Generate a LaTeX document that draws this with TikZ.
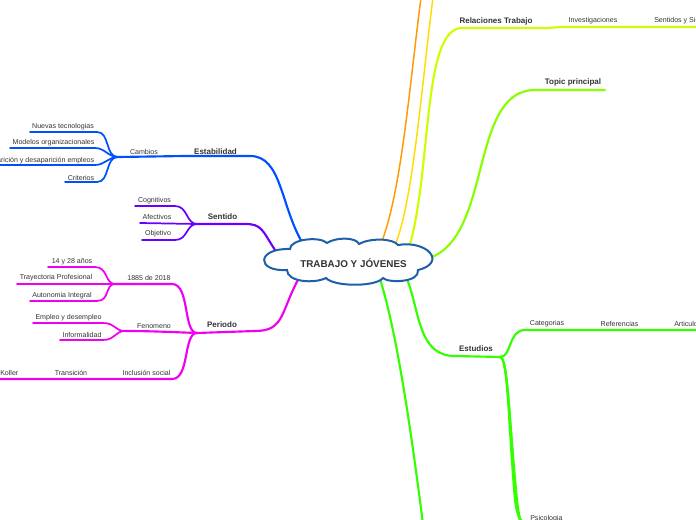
\documentclass[tikz,border=0pt]{standalone}
\usepackage{fontspec}
\setmainfont{Liberation Sans}
\definecolor{txt}{HTML}{333333}
\definecolor{cblue}{HTML}{0050FF}
\definecolor{cpurple}{HTML}{6A00FF}
\definecolor{cmag}{HTML}{F000F0}
\definecolor{corange}{HTML}{FF9900}
\definecolor{cyellow}{HTML}{FFDD00}
\definecolor{cyg}{HTML}{CCFF00}
\definecolor{ctopic}{HTML}{88FF00}
\definecolor{cgreen}{HTML}{33FF00}
\definecolor{ccloud}{HTML}{1F5FA8}
\begin{document}
\begin{tikzpicture}[x=0.75pt,y=-0.75pt,
  lbl/.style={font=\fontsize{5.3}{6}\selectfont, text=txt, inner sep=0pt},
  blbl/.style={font=\bfseries\fontsize{6}{7}\selectfont, text=txt, inner sep=0pt},
  br/.style={line width=1.6pt, line cap=round},
  sub/.style={line width=1.3pt, line cap=round},
  thin/.style={line width=1.1pt, line cap=round}]
\useasboundingbox (0,0) rectangle (696,520);
\clip (0,0) rectangle (696,520);

% ---------- coordinates ----------
\coordinate (sEst) at (303,244);
\coordinate (jCam) at (118,157);
\coordinate (sSen) at (275,250);
\coordinate (jSen) at (197,224);
\coordinate (sPer) at (300,276);
\coordinate (jPer) at (197,333);
\coordinate (jLey) at (115,284);
\coordinate (jFen) at (125,331);
\coordinate (sOr) at (382,241);
\coordinate (eOr) at (422,-10);
\coordinate (sYe) at (396,243);
\coordinate (eYe) at (434,-10);
\coordinate (sRel) at (409,248);
\coordinate (eRel) at (700,27);
\coordinate (sTop) at (432,257);
\coordinate (sEstu) at (407,279);
\coordinate (jEstu) at (500,357);
\coordinate (eCat) at (700,330);
\coordinate (sLong) at (380,279);
\coordinate (eLong) at (425,540);
\coordinate (ePs1) at (560,530);
\coordinate (ePs2) at (560,545);
\coordinate (ePs3) at (560,560);

% ---------- Estabilidad (blue) ----------
\draw[br,cblue] (sEst) .. controls (280,205) and (282,156) .. (250,156) -- (185,156) -- (jCam);
\draw[sub,cblue] (jCam) .. controls (105,157) and (110,132) .. (97,132) -- (30,132);
\draw[sub,cblue] (jCam) .. controls (108,157) and (105,148) .. (95,148) -- (10,148);
\draw[sub,cblue] (jCam) .. controls (108,157) and (105,165) .. (95,165) -- (-5,165);
\draw[sub,cblue] (jCam) .. controls (105,157) and (110,182) .. (97,182) -- (65,182);
\node[lbl] (n1) at (63,126.5) {Nuevas tecnologias};
\node[lbl] (n2) at (53.5,143) {Modelos organizacionales};
\node[lbl,anchor=east] (n3) at (94.5,160.5) {Aparición y desaparición empleos};
\node[lbl] (n4) at (81,177.5) {Criterios};
\node[lbl] (cam) at (144,151.5) {Cambios};
\node[blbl] (est) at (215.5,151.5) {Estabilidad};

% ---------- Sentido (purple) ----------
\draw[br,cpurple] (sSen) .. controls (262,230) and (262,224) .. (245,224) -- (jSen);
\draw[sub,cpurple] (jSen) .. controls (186,224) and (188,206) .. (175,206) -- (135,206);
\draw[sub,cpurple] (jSen) -- (140,223);
\draw[sub,cpurple] (jSen) .. controls (186,224) and (188,240) .. (175,240) -- (142,240);
\node[lbl] (cog) at (154.5,200.5) {Cognitivos};
\node[lbl] (afe) at (157,216.5) {Afectivos};
\node[lbl] (obj) at (158,233.5) {Objetivo};
\node[blbl] (sen) at (222.5,217) {Sentido};

% ---------- Periodo (magenta) ----------
\draw[br,cmag] (sPer) .. controls (280,312) and (285,331) .. (255,331) -- (jPer);
\draw[br,cmag] (jPer) .. controls (183,333) and (190,284) .. (172,284) -- (jLey);
\draw[br,cmag] (jPer) .. controls (170,332) and (150,331) .. (jFen);
\draw[br,cmag] (jPer) .. controls (183,333) and (190,379) .. (172,379) -- (-5,379);
\draw[sub,cmag] (jLey) .. controls (105,284) and (108,267) .. (95,267) -- (48,267);
\draw[sub,cmag] (jLey) -- (17,284);
\draw[sub,cmag] (jLey) .. controls (105,284) and (110,301) .. (97,301) -- (30,301);
\draw[sub,cmag] (jFen) .. controls (115,331) and (115,323) .. (103,323) -- (33,323);
\draw[sub,cmag] (jFen) .. controls (115,331) and (115,340) .. (103,340) -- (60,340);
\node[lbl] (a1) at (72,261.5) {14 y 28 años};
\node[lbl] (a2) at (56,278) {Trayectoria Profesional};
\node[lbl] (a3) at (62,295.5) {Autonomia Integral};
\node[lbl] (ley) at (149,278) {1885 de 2018};
\node[lbl] (f1) at (68.5,318) {Empleo y desempleo};
\node[lbl] (f2) at (82,334.5) {Informalidad};
\node[lbl] (fen) at (154,326) {Fenomeno};
\node[blbl] (per) at (222,325) {Periodo};
\node[lbl] (inc) at (146.5,373) {Inclusión social};
\node[lbl] (tra) at (71,373) {Transición};
\node[lbl,anchor=west] (kol) at (0,373) {Koller};

% ---------- Right side ----------
\draw[thin,corange] (sOr) .. controls (402,188) and (410,80) .. (eOr);
\draw[thin,cyellow] (sYe) .. controls (414,195) and (422,80) .. (eYe);
\draw[br,cyg] (sRel) .. controls (432,170) and (422,28) .. (462,28) -- (545,28) .. controls (553,28) and (556,27) .. (565,27) -- (eRel);
\node[blbl] (rel) at (496,21) {Relaciones Trabajo};
\node[lbl] (inv) at (593,21) {Investigaciones};
\node[lbl,anchor=west] (sig) at (654,21) {Sentidos y Significados};

\draw[br,ctopic] (sTop) .. controls (492,232) and (470,90) .. (535,90) -- (605,90);
\node[blbl] (top) at (573,82) {Topic principal};

\draw[br,cgreen] (sEstu) .. controls (420,312) and (418,356) .. (455,356) -- (jEstu);
\draw[br,cgreen] (jEstu) .. controls (512,357) and (508,330) .. (525,330) -- (eCat);
\draw[br,cgreen] (jEstu) .. controls (508,357) and (508,420) .. (515,500) .. controls (518,525) and (525,530) .. (ePs1);
\draw[br,cgreen] (jEstu) .. controls (508,357) and (509,420) .. (516,500) .. controls (520,535) and (530,545) .. (ePs2);
\draw[br,cgreen] (jEstu) .. controls (508,357) and (509,420) .. (517,500) .. controls (522,545) and (535,560) .. (ePs3);
\draw[br,cgreen] (sLong) .. controls (396,330) and (410,420) .. (eLong);
\node[blbl] (estu) at (476,349) {Estudios};
\node[lbl] (cat) at (547,324) {Categorias};
\node[lbl] (ref) at (619.5,324) {Referencias};
\node[lbl,anchor=west] (art) at (674,324) {Articulos};
\node[lbl,anchor=west] (psi) at (530,519) {Psicologia};

% ---------- central cloud ----------
\draw[line width=1.5pt, ccloud, fill=white]
  (287,270) .. controls (256,272) and (256,248) .. (290,249)
  .. controls (290,239) and (320,236) .. (327,243)
  .. controls (336,237) and (356,237) .. (359,244)
  .. controls (369,238) and (393,238) .. (398,245)
  .. controls (428,240) and (447,263) .. (418,270)
  .. controls (420,283) and (387,283) .. (383,278)
  .. controls (376,287) and (334,287) .. (326,278)
  .. controls (314,284) and (287,282) .. (287,270) -- cycle;
\node[font=\bfseries\fontsize{7.4}{9}\selectfont, text=txt, inner sep=0pt] (center) at (353.5,263) {TRABAJO Y JÓVENES};
\end{tikzpicture}
\end{document}
